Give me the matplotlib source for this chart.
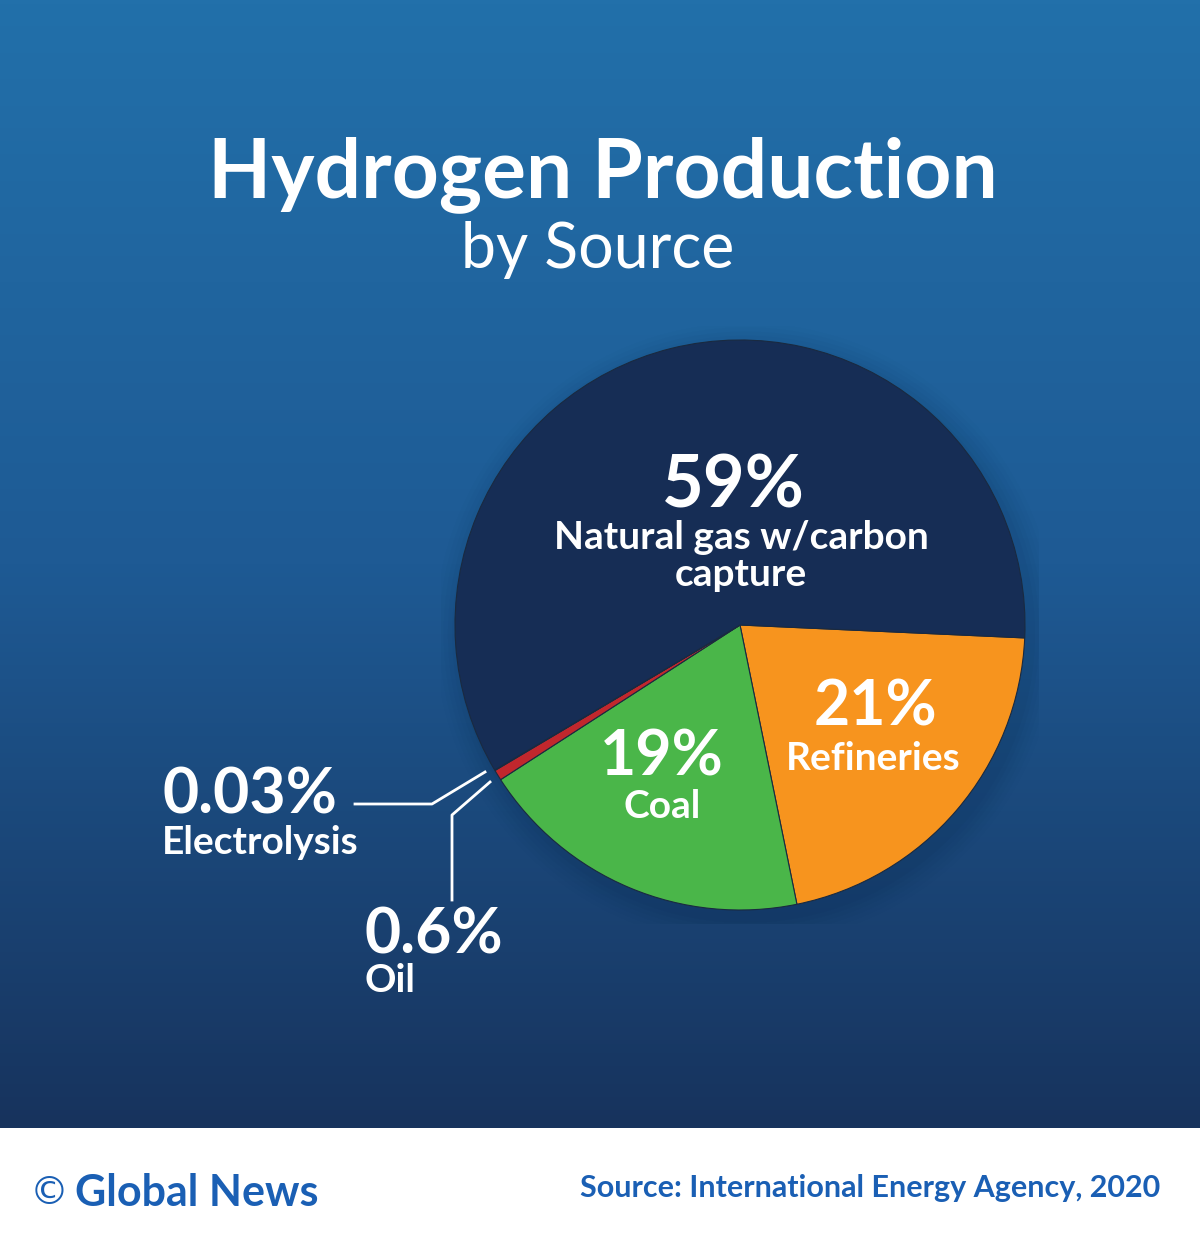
import numpy as np
import matplotlib
matplotlib.use("Agg")
import matplotlib.pyplot as plt
from matplotlib.colors import LinearSegmentedColormap

categories = ["Refineries", "Coal", "Oil", "Electrolysis", "Natural gas w/carbon\ncapture"]
values = [21, 19, 0.6, 0.03, 59]
pct_labels = ["21%", "19%", "0.6%", "0.03%", "59%"]
colors = ["#f7941e", "#4ab649", "#c1272d", "#e6e6e6", "#162d55"]

W, H = 1200, 1248
fig = plt.figure(figsize=(12, 12.48), dpi=100)

def fx(x): return x / W
def fy(y): return 1 - y / H

bg = fig.add_axes([0, fy(1128), 1, 1128 / H])
grad = np.linspace(0, 1, 256).reshape(-1, 1)
cmap = LinearSegmentedColormap.from_list("bg", ["#2270aa", "#1e5a94", "#17335d"])
bg.imshow(grad, aspect="auto", cmap=cmap, extent=[0, 1, 0, 1])
bg.axis("off")

cx, cy, r = 740, 625, 285
ax = fig.add_axes([fx(cx - r * 1.05), fy(cy + r * 1.05), 2.1 * r / W, 2.1 * r / H])
for i, a in enumerate(np.linspace(0.03, 0.01, 6)):
    ax.add_patch(plt.Circle((0.02, -0.03), 1.0 + 0.015 * (i + 1), color="#0a1a35", alpha=a, lw=0))
ax.pie(values, colors=colors, startangle=-2.6, counterclock=False, radius=1,
       wedgeprops=dict(edgecolor="#1a2a40", linewidth=0.8))
ax.set_xlim(-1.05, 1.05); ax.set_ylim(-1.05, 1.05)
ax.set_aspect("auto")
ax.axis("off")

font = "Lato"
fig.text(fx(603), fy(175), "Hydrogen Production", ha="center", va="center",
         fontsize=59, color="white", family=font, weight="bold")
fig.text(fx(598), fy(250), "by Source", ha="center", va="center",
         fontsize=45, color="white", family=font)

def t(x, y, s, size, ha="center", ls=1.2):
    fig.text(fx(x), fy(y), s, ha=ha, va="center", fontsize=size, color="white",
             family=font, weight="bold", linespacing=ls)

t(733, 487, pct_labels[4], 52)
t(741, 556, categories[4], 28, ls=1.05)
t(875, 708, pct_labels[0], 45)
t(873, 758, categories[0], 28)
t(662, 757, pct_labels[1], 45)
t(662, 807, categories[1], 28)
t(162, 796, pct_labels[3], 45, ha="left")
t(162, 842, categories[3], 28, ha="left")
t(365, 935, pct_labels[2], 45, ha="left")
t(365, 981, categories[2], 28, ha="left")

la = fig.add_axes([0, 0, 1, 1]); la.set_xlim(0, W); la.set_ylim(H, 0); la.axis("off")
la.plot([355, 432, 485], [804, 804, 772], color="white", lw=2)
la.plot([452, 452, 490], [900, 815, 782], color="white", lw=2)

blue = "#1a5fb4"
fig.text(fx(30), fy(1193), "©", ha="left", va="center", fontsize=28, color=blue, family="DejaVu Sans")
fig.text(fx(75), fy(1193), "Global News", ha="left", va="center", fontsize=31, color=blue, family=font, weight="bold")
fig.text(fx(1160), fy(1188), "Source: International Energy Agency, 2020", ha="right", va="center",
         fontsize=22, color=blue, family=font, weight="bold")

fig.savefig("out.png", dpi=100, facecolor="white")
